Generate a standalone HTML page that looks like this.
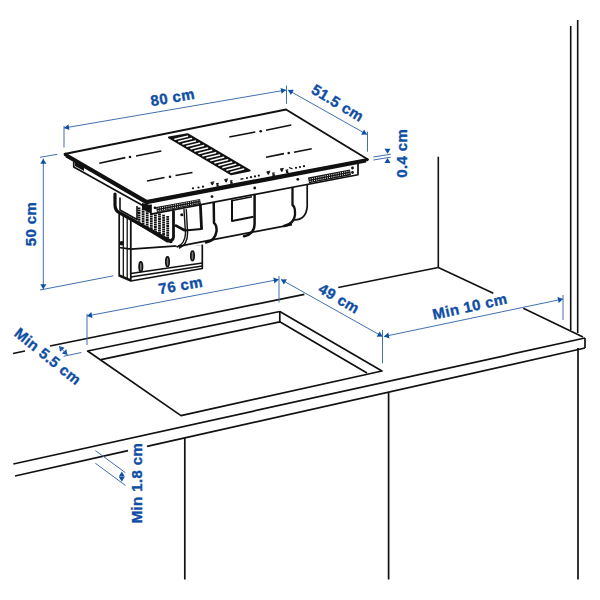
<!DOCTYPE html>
<html><head><meta charset="utf-8"><style>
html,body{margin:0;padding:0;background:#fff;}
svg{display:block;font-family:"Liberation Sans",sans-serif;}
</style></head><body>
<svg width="600" height="600" viewBox="0 0 600 600">
<rect width="600" height="600" fill="#fff"/>
<line x1="438.30" y1="156.70" x2="438.30" y2="267.50" stroke="#111" stroke-width="1.6" />
<line x1="570.70" y1="26.00" x2="570.70" y2="330.00" stroke="#111" stroke-width="1.6" />
<line x1="577.70" y1="20.00" x2="577.70" y2="333.00" stroke="#111" stroke-width="1.6" />
<line x1="13.00" y1="353.51" x2="25.00" y2="351.07" stroke="#111" stroke-width="1.6" />
<line x1="50.00" y1="346.00" x2="304.30" y2="294.38" stroke="#111" stroke-width="1.6" />
<line x1="338.20" y1="287.50" x2="438.30" y2="267.50" stroke="#111" stroke-width="1.6" />
<line x1="438.30" y1="267.50" x2="493.30" y2="293.30" stroke="#111" stroke-width="1.6" />
<line x1="523.30" y1="308.30" x2="583.00" y2="337.00" stroke="#111" stroke-width="1.6" />
<line x1="13.30" y1="464.00" x2="585.00" y2="338.00" stroke="#111" stroke-width="1.7" />
<line x1="15.00" y1="476.00" x2="128.00" y2="450.62" stroke="#111" stroke-width="1.7" />
<line x1="147.00" y1="446.35" x2="585.00" y2="348.00" stroke="#111" stroke-width="1.7" />
<line x1="585.00" y1="338.00" x2="585.00" y2="348.00" stroke="#111" stroke-width="1.7" />
<line x1="184.80" y1="438.20" x2="184.80" y2="579.50" stroke="#111" stroke-width="1.7" />
<line x1="388.60" y1="392.09" x2="388.60" y2="579.50" stroke="#111" stroke-width="1.7" />
<line x1="578.00" y1="348.00" x2="578.00" y2="579.50" stroke="#111" stroke-width="1.7" />
<polyline points="279.80,311.50 87.60,351.00 181.00,415.60 382.00,371.00 279.80,311.50" stroke="#111" stroke-width="1.7" fill="none" stroke-linejoin="round" />
<polyline points="101.00,359.60 279.80,321.80 367.00,373.00" stroke="#111" stroke-width="1.7" fill="none" stroke-linejoin="round" />
<line x1="279.80" y1="311.50" x2="279.80" y2="321.80" stroke="#111" stroke-width="1.7" />
<polyline points="119.20,212.00 119.20,276.00 130.80,281.00 202.30,268.50 202.30,244.20" stroke="#111" stroke-width="1.7" fill="#fff" stroke-linejoin="round" />
<line x1="123.30" y1="214.00" x2="123.30" y2="277.00" stroke="#111" stroke-width="1.3" />
<line x1="127.20" y1="216.00" x2="127.20" y2="278.50" stroke="#111" stroke-width="1.3" />
<line x1="130.80" y1="218.00" x2="130.80" y2="281.00" stroke="#111" stroke-width="1.8" />
<polyline points="119.20,247.50 130.80,249.20 202.30,244.20" stroke="#111" stroke-width="1.7" fill="none" stroke-linejoin="round" />
<line x1="130.80" y1="273.50" x2="202.30" y2="263.00" stroke="#111" stroke-width="1.7" />
<line x1="130.80" y1="277.00" x2="202.30" y2="266.00" stroke="#111" stroke-width="1.7" />
<line x1="119.20" y1="275.00" x2="130.80" y2="280.00" stroke="#111" stroke-width="1.7" />
<ellipse cx="140.8" cy="266.7" rx="1.7" ry="4.8" fill="#777" stroke="#111" stroke-width="1.7"/>
<ellipse cx="167.5" cy="261.7" rx="1.7" ry="4.8" fill="#777" stroke="#111" stroke-width="1.7"/>
<ellipse cx="192.5" cy="255.8" rx="1.7" ry="4.8" fill="#777" stroke="#111" stroke-width="1.7"/>
<circle cx="121.7" cy="243.3" r="2.2" fill="#111"/>
<path d="M115,194 L115,205 Q115,211 120,213 L168,240 L185,241 L185,205 L150,205 Z" stroke="#111" stroke-width="0" fill="#fff" stroke-linejoin="round" stroke-linecap="round" />
<line x1="139.00" y1="207.50" x2="139.00" y2="224.00" stroke="#111" stroke-width="2.8" stroke-dasharray="1.8 0.5"/>
<line x1="143.10" y1="208.70" x2="143.10" y2="226.30" stroke="#111" stroke-width="2.8" stroke-dasharray="1.8 0.5"/>
<line x1="147.20" y1="209.90" x2="147.20" y2="228.60" stroke="#111" stroke-width="2.8" stroke-dasharray="1.8 0.5"/>
<line x1="151.30" y1="211.10" x2="151.30" y2="230.90" stroke="#111" stroke-width="2.8" stroke-dasharray="1.8 0.5"/>
<line x1="155.40" y1="212.30" x2="155.40" y2="233.20" stroke="#111" stroke-width="2.8" stroke-dasharray="1.8 0.5"/>
<line x1="159.50" y1="213.50" x2="159.50" y2="235.50" stroke="#111" stroke-width="2.8" stroke-dasharray="1.8 0.5"/>
<line x1="163.60" y1="214.70" x2="163.60" y2="237.80" stroke="#111" stroke-width="2.8" stroke-dasharray="1.8 0.5"/>
<line x1="167.70" y1="215.90" x2="167.70" y2="240.10" stroke="#111" stroke-width="2.8" stroke-dasharray="1.8 0.5"/>
<path d="M115,194 L115,205 Q115,211 120,213 L171,241.5" stroke="#111" stroke-width="3.2" fill="none" stroke-linejoin="round" stroke-linecap="round" />
<line x1="130.00" y1="219.00" x2="166.00" y2="241.00" stroke="#111" stroke-width="1.5" />
<polyline points="120.00,197.50 120.00,210.00 137.00,219.50 137.00,206.00" stroke="#111" stroke-width="1.6" fill="none" stroke-linejoin="round" />
<polygon points="142,203 151,205 151,213.5 142,209" fill="#111"/>
<path d="M172,210.0 L307.2,184.4 L307.2,206.7 Q306,220 290,225 L207,243.5 Q190,247.5 178,246.5 Q172,244 172,238 Z" stroke="#111" stroke-width="0" fill="#fff" stroke-linejoin="round" stroke-linecap="round" />
<line x1="178.00" y1="246.30" x2="292.00" y2="224.60" stroke="#111" stroke-width="1.7" />
<path d="M173.5,211.5 L173.5,237 Q173,241.5 167,241" stroke="#111" stroke-width="2.8" fill="none" stroke-linejoin="round" stroke-linecap="round" />
<path d="M184,209.5 L185.5,233.5 Q185,243.5 177.2,247" stroke="#111" stroke-width="1.4" fill="none" stroke-linejoin="round" stroke-linecap="round" />
<path d="M186.3,209.5 L187.6,233 Q187.4,245 179.5,248" stroke="#111" stroke-width="1.4" fill="none" stroke-linejoin="round" stroke-linecap="round" />
<line x1="175.00" y1="225.20" x2="185.00" y2="230.50" stroke="#111" stroke-width="2.6" />
<line x1="185.00" y1="230.50" x2="201.40" y2="229.00" stroke="#111" stroke-width="2.2" />
<line x1="200.30" y1="203.00" x2="201.60" y2="229.80" stroke="#111" stroke-width="2.8" />
<circle cx="181.8" cy="214.8" r="1.5" fill="#111"/>
<path d="M213.7,201.5 L214,223 Q216.8,225 216.6,231 Q215,241 206,242.5" stroke="#111" stroke-width="2.5" fill="none" stroke-linejoin="round" stroke-linecap="round" />
<path d="M254.6,194.5 L254.6,224 Q254.5,234 244,236.3" stroke="#111" stroke-width="2.5" fill="none" stroke-linejoin="round" stroke-linecap="round" />
<path d="M292.5,187.5 L292.5,205 Q295,207 295,212 L295,215 Q294,224 284,226" stroke="#111" stroke-width="2.3" fill="none" stroke-linejoin="round" stroke-linecap="round" />
<path d="M307.2,185 L307.2,206.7 Q306,220 294.3,220" stroke="#111" stroke-width="1.7" fill="none" stroke-linejoin="round" stroke-linecap="round" />
<polyline points="232.00,199.50 232.00,221.00 253.50,216.80" stroke="#111" stroke-width="2.0" fill="none" stroke-linejoin="round" />
<line x1="231.80" y1="200.80" x2="252.00" y2="196.80" stroke="#111" stroke-width="1.4" />
<polyline points="73.75,161.75 73.75,167.00 145.00,206.75" stroke="#111" stroke-width="1.7" fill="none" stroke-linejoin="round" />
<polygon points="75,162 84,167 84,171 75,166" fill="#111"/>
<polyline points="151.00,204.50 151.00,214.20 358.00,174.75 358.00,164.00" stroke="#111" stroke-width="1.7" fill="#fff" stroke-linejoin="round" />
<line x1="156.50" y1="209.50" x2="200.50" y2="201.50" stroke="#151515" stroke-width="5.2" />
<line x1="157.70" y1="208.30" x2="199.30" y2="200.30" stroke="#fff" stroke-width="1.0" stroke-dasharray="1 1.2"/>
<line x1="157.70" y1="210.70" x2="199.30" y2="202.70" stroke="#fff" stroke-width="1.0" stroke-dasharray="1 1.2"/>
<line x1="308.50" y1="180.30" x2="350.50" y2="172.30" stroke="#151515" stroke-width="5.8" />
<line x1="309.70" y1="179.10" x2="349.30" y2="171.10" stroke="#fff" stroke-width="1.0" stroke-dasharray="1 1.2"/>
<line x1="309.70" y1="181.50" x2="349.30" y2="173.50" stroke="#fff" stroke-width="1.0" stroke-dasharray="1 1.2"/>
<circle cx="212" cy="196.6" r="1.4" fill="#111"/>
<circle cx="254.7" cy="188" r="1.4" fill="#111"/>
<circle cx="297.8" cy="179.3" r="1.4" fill="#111"/>
<circle cx="155" cy="207.8" r="1.4" fill="#111"/>
<circle cx="352.5" cy="168" r="1.4" fill="#111"/>
<circle cx="352.5" cy="172.5" r="1.4" fill="#111"/>
<polygon points="146.50,201.50 64.50,154.00 286.00,109.50 368.00,159.50" stroke="#111" stroke-width="1.9" fill="#fff" stroke-linejoin="round" />
<polyline points="64.50,154.00 146.50,201.50 368.00,159.50" stroke="#111" stroke-width="3.2" fill="none" stroke-linejoin="round" />
<polyline points="66.00,156.20 146.50,203.20 366.00,161.50" stroke="#111" stroke-width="2.2" fill="none" stroke-linejoin="round" />
<line x1="99.30" y1="163.30" x2="125.30" y2="157.60" stroke="#111" stroke-width="1.6" />
<circle cx="130" cy="157" r="1.3" fill="#111"/>
<line x1="136.00" y1="156.00" x2="161.30" y2="151.00" stroke="#111" stroke-width="1.6" />
<line x1="147.00" y1="181.00" x2="164.50" y2="177.50" stroke="#111" stroke-width="1.6" />
<circle cx="170" cy="176.8" r="1.3" fill="#111"/>
<line x1="175.50" y1="175.50" x2="192.50" y2="172.50" stroke="#111" stroke-width="1.6" />
<line x1="229.30" y1="137.00" x2="255.30" y2="132.00" stroke="#111" stroke-width="1.6" />
<circle cx="260.7" cy="131.3" r="1.3" fill="#111"/>
<line x1="266.00" y1="130.30" x2="291.30" y2="125.00" stroke="#111" stroke-width="1.6" />
<line x1="266.00" y1="157.30" x2="284.00" y2="153.60" stroke="#111" stroke-width="1.6" />
<circle cx="288.7" cy="153" r="1.3" fill="#111"/>
<line x1="294.00" y1="152.30" x2="311.70" y2="148.70" stroke="#111" stroke-width="1.6" />
<polygon points="168.90,137.50 187.50,134.20 249.70,170.50 231.00,174.20" stroke="#111" stroke-width="2.0" fill="#111" stroke-linejoin="round" />
<line x1="174.90" y1="139.18" x2="187.51" y2="136.26" stroke="#fff" stroke-width="1.55" stroke-linecap="round"/>
<line x1="178.91" y1="141.54" x2="191.52" y2="138.60" stroke="#fff" stroke-width="1.55" stroke-linecap="round"/>
<line x1="182.92" y1="143.91" x2="195.54" y2="140.94" stroke="#fff" stroke-width="1.55" stroke-linecap="round"/>
<line x1="186.92" y1="146.28" x2="199.55" y2="143.28" stroke="#fff" stroke-width="1.55" stroke-linecap="round"/>
<line x1="190.93" y1="148.65" x2="203.56" y2="145.62" stroke="#fff" stroke-width="1.55" stroke-linecap="round"/>
<line x1="194.94" y1="151.01" x2="207.57" y2="147.97" stroke="#fff" stroke-width="1.55" stroke-linecap="round"/>
<line x1="198.94" y1="153.38" x2="211.59" y2="150.31" stroke="#fff" stroke-width="1.55" stroke-linecap="round"/>
<line x1="202.95" y1="155.75" x2="215.60" y2="152.65" stroke="#fff" stroke-width="1.55" stroke-linecap="round"/>
<line x1="206.96" y1="158.12" x2="219.61" y2="154.99" stroke="#fff" stroke-width="1.55" stroke-linecap="round"/>
<line x1="210.96" y1="160.49" x2="223.63" y2="157.33" stroke="#fff" stroke-width="1.55" stroke-linecap="round"/>
<line x1="214.97" y1="162.85" x2="227.64" y2="159.68" stroke="#fff" stroke-width="1.55" stroke-linecap="round"/>
<line x1="218.98" y1="165.22" x2="231.65" y2="162.02" stroke="#fff" stroke-width="1.55" stroke-linecap="round"/>
<line x1="222.98" y1="167.59" x2="235.66" y2="164.36" stroke="#fff" stroke-width="1.55" stroke-linecap="round"/>
<line x1="226.99" y1="169.96" x2="239.68" y2="166.70" stroke="#fff" stroke-width="1.55" stroke-linecap="round"/>
<line x1="231.00" y1="172.32" x2="243.69" y2="169.04" stroke="#fff" stroke-width="1.55" stroke-linecap="round"/>
<circle cx="193" cy="188.3" r="1.1" fill="#111"/>
<circle cx="198.5" cy="187.5" r="1.1" fill="#111"/>
<circle cx="203" cy="186.7" r="1.1" fill="#111"/>
<path d="M210.5,182.5 l3.8,-0.7 M211.1,183.1 l2.4,-0.4 l-1.2,2.4 z" stroke="#111" stroke-width="1.0" fill="#111"/>
<path d="M216.1,183.9 l2.6,-0.5 M216.5,186.3 l2.6,-0.5" stroke="#111" stroke-width="1.1"/>
<circle cx="217.5" cy="185.1" r="1.1" fill="#111"/>
<path d="M224.3,179.6 l3.8,-0.7 M224.9,180.2 l2.4,-0.4 l-1.2,2.4 z" stroke="#111" stroke-width="1.0" fill="#111"/>
<path d="M229.9,181.0 l2.6,-0.5 M230.3,183.4 l2.6,-0.5" stroke="#111" stroke-width="1.1"/>
<circle cx="231.3" cy="182.2" r="1.1" fill="#111"/>
<path d="M266.5,171.8 l3.8,-0.7 M267.1,172.4 l2.4,-0.4 l-1.2,2.4 z" stroke="#111" stroke-width="1.0" fill="#111"/>
<path d="M272.1,173.20000000000002 l2.6,-0.5 M272.5,175.60000000000002 l2.6,-0.5" stroke="#111" stroke-width="1.1"/>
<circle cx="273.5" cy="174.4" r="1.1" fill="#111"/>
<path d="M280,169 l3.8,-0.7 M280.6,169.6 l2.4,-0.4 l-1.2,2.4 z" stroke="#111" stroke-width="1.0" fill="#111"/>
<path d="M285.6,170.4 l2.6,-0.5 M286,172.8 l2.6,-0.5" stroke="#111" stroke-width="1.1"/>
<circle cx="287" cy="171.6" r="1.1" fill="#111"/>
<line x1="240.50" y1="179.20" x2="243.50" y2="178.60" stroke="#111" stroke-width="1.4" />
<circle cx="247" cy="178" r="1.1" fill="#111"/>
<circle cx="251" cy="177.2" r="1.1" fill="#111"/>
<circle cx="255" cy="176.4" r="1.1" fill="#111"/>
<circle cx="258.8" cy="175.6" r="1.1" fill="#111"/>
<line x1="289.00" y1="167.50" x2="292.50" y2="168.80" stroke="#111" stroke-width="1.3" />
<circle cx="296" cy="167.8" r="1.1" fill="#111"/>
<circle cx="300" cy="167" r="1.1" fill="#111"/>
<circle cx="304" cy="166.2" r="1.1" fill="#111"/>
<line x1="64.00" y1="126.00" x2="64.00" y2="147.50" stroke="#4170b0" stroke-width="1.0" />
<line x1="286.50" y1="85.50" x2="286.50" y2="103.75" stroke="#4170b0" stroke-width="1.0" />
<line x1="64.00" y1="128.00" x2="286.00" y2="90.00" stroke="#4170b0" stroke-width="1.0" />
<polygon points="64.00,128.00 68.42,124.20 69.43,130.11" fill="#0f4ea5"/>
<polygon points="286.00,90.00 281.58,93.80 280.57,87.89" fill="#0f4ea5"/>
<line x1="288.00" y1="90.00" x2="367.00" y2="134.50" stroke="#4170b0" stroke-width="1.0" />
<polygon points="288.00,90.00 293.83,89.84 290.88,95.07" fill="#0f4ea5"/>
<polygon points="367.00,134.50 361.17,134.66 364.12,129.43" fill="#0f4ea5"/>
<line x1="367.50" y1="131.70" x2="367.50" y2="151.70" stroke="#4170b0" stroke-width="1.0" />
<line x1="373.30" y1="157.00" x2="390.80" y2="154.20" stroke="#4170b0" stroke-width="1.0" />
<line x1="373.30" y1="160.00" x2="390.80" y2="157.20" stroke="#4170b0" stroke-width="1.0" />
<polygon points="387.50,153.70 384.50,148.70 390.50,148.70" fill="#0f4ea5"/>
<polygon points="387.50,158.00 390.50,163.00 384.50,163.00" fill="#0f4ea5"/>
<line x1="43.30" y1="158.70" x2="43.30" y2="289.20" stroke="#4170b0" stroke-width="1.0" />
<polygon points="43.30,158.70 46.30,163.70 40.30,163.70" fill="#0f4ea5"/>
<polygon points="43.30,289.20 40.30,284.20 46.30,284.20" fill="#0f4ea5"/>
<line x1="40.00" y1="157.30" x2="57.30" y2="154.30" stroke="#4170b0" stroke-width="1.0" />
<line x1="40.00" y1="290.00" x2="113.30" y2="275.80" stroke="#4170b0" stroke-width="1.0" />
<line x1="87.00" y1="316.00" x2="278.75" y2="279.50" stroke="#4170b0" stroke-width="1.0" />
<polygon points="87.00,316.00 91.35,312.12 92.47,318.01" fill="#0f4ea5"/>
<polygon points="278.75,279.50 274.40,283.38 273.28,277.49" fill="#0f4ea5"/>
<line x1="87.00" y1="313.75" x2="87.00" y2="345.00" stroke="#4170b0" stroke-width="1.0" />
<line x1="279.00" y1="276.00" x2="279.00" y2="302.50" stroke="#4170b0" stroke-width="1.0" />
<line x1="281.00" y1="279.50" x2="382.50" y2="336.50" stroke="#4170b0" stroke-width="1.0" />
<polygon points="281.00,279.50 286.83,279.33 283.89,284.56" fill="#0f4ea5"/>
<polygon points="382.50,336.50 376.67,336.67 379.61,331.44" fill="#0f4ea5"/>
<line x1="382.50" y1="330.00" x2="382.50" y2="363.30" stroke="#4170b0" stroke-width="1.0" />
<line x1="384.00" y1="336.50" x2="563.00" y2="299.00" stroke="#4170b0" stroke-width="1.0" />
<polygon points="384.00,336.50 388.28,332.54 389.51,338.41" fill="#0f4ea5"/>
<polygon points="563.00,299.00 558.72,302.96 557.49,297.09" fill="#0f4ea5"/>
<line x1="563.00" y1="295.00" x2="563.00" y2="320.00" stroke="#4170b0" stroke-width="1.0" />
<line x1="63.50" y1="356.30" x2="81.30" y2="352.50" stroke="#4170b0" stroke-width="1.0" />
<polygon points="59.00,346.00 64.56,347.74 60.08,351.73" fill="#0f4ea5"/>
<polygon points="67.50,355.00 61.89,353.42 66.25,349.31" fill="#0f4ea5"/>
<line x1="59.00" y1="346.00" x2="67.50" y2="355.00" stroke="#4170b0" stroke-width="1.0" />
<line x1="95.30" y1="450.50" x2="125.40" y2="472.70" stroke="#4170b0" stroke-width="1.0" />
<line x1="95.30" y1="463.20" x2="125.40" y2="485.40" stroke="#4170b0" stroke-width="1.0" />
<polygon points="121.80,471.60 124.80,476.60 118.80,476.60" fill="#0f4ea5"/>
<polygon points="121.80,481.80 118.80,476.80 124.80,476.80" fill="#0f4ea5"/>
<text x="173.5" y="102.5" transform="rotate(-10 173.5 102.5)" font-size="15" fill="#0f4ea5" text-anchor="middle" font-weight="bold" stroke="#0f4ea5" stroke-width="0.35" letter-spacing="0.4">80 cm</text>
<text x="335" y="107.5" transform="rotate(31 335 107.5)" font-size="15" fill="#0f4ea5" text-anchor="middle" font-weight="bold" stroke="#0f4ea5" stroke-width="0.35" letter-spacing="0.4">51.5 cm</text>
<text x="407.5" y="153.3" transform="rotate(-90 407.5 153.3)" font-size="15" fill="#0f4ea5" text-anchor="middle" font-weight="bold" stroke="#0f4ea5" stroke-width="0.35" letter-spacing="0.4">0.4 cm</text>
<text x="36" y="224" transform="rotate(-90 36 224)" font-size="15" fill="#0f4ea5" text-anchor="middle" font-weight="bold" stroke="#0f4ea5" stroke-width="0.35" letter-spacing="0.4">50 cm</text>
<text x="181.5" y="290.5" transform="rotate(-10 181.5 290.5)" font-size="15" fill="#0f4ea5" text-anchor="middle" font-weight="bold" stroke="#0f4ea5" stroke-width="0.35" letter-spacing="0.4">76 cm</text>
<text x="336.5" y="303" transform="rotate(30 336.5 303)" font-size="15" fill="#0f4ea5" text-anchor="middle" font-weight="bold" stroke="#0f4ea5" stroke-width="0.35" letter-spacing="0.4">49 cm</text>
<text x="471" y="311.5" transform="rotate(-12.5 471 311.5)" font-size="15" fill="#0f4ea5" text-anchor="middle" font-weight="bold" stroke="#0f4ea5" stroke-width="0.35" letter-spacing="0.4">Min 10 cm</text>
<text x="44.5" y="360.5" transform="rotate(39 44.5 360.5)" font-size="15" fill="#0f4ea5" text-anchor="middle" font-weight="bold" stroke="#0f4ea5" stroke-width="0.35" letter-spacing="0.4">Min 5.5 cm</text>
<text x="142" y="483" transform="rotate(-90 142 483)" font-size="15" fill="#0f4ea5" text-anchor="middle" font-weight="bold" stroke="#0f4ea5" stroke-width="0.35" letter-spacing="0.4">Min 1.8 cm</text>
</svg></body></html>
